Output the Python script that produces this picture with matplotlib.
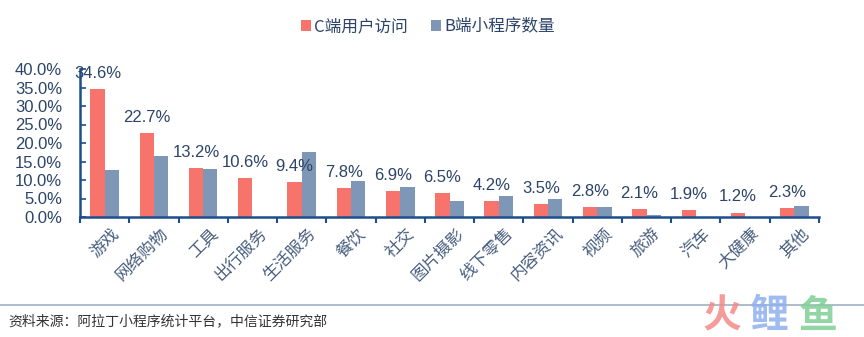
import matplotlib
matplotlib.use("Agg")
import matplotlib.pyplot as plt
import numpy as np

plt.rcParams["font.family"] = ["Noto Sans CJK SC", "DejaVu Sans"]

categories = ["游戏", "网络购物", "工具", "出行服务", "生活服务", "餐饮", "社交",
              "图片摄影", "线下零售", "内容资讯", "视频", "旅游", "汽车", "大健康", "其他"]
c_visits = [34.6, 22.7, 13.2, 10.6, 9.4, 7.8, 6.9, 6.5, 4.2, 3.5, 2.8, 2.1, 1.9, 1.2, 2.3]
b_programs = [12.8, 16.5, 13.0, 0.0, 17.7, 9.7, 8.1, 4.2, 5.7, 5.0, 2.6, 0.6, 0.0, 0.0, 3.1]
yticks = [0, 5, 10, 15, 20, 25, 30, 35, 40]

RED = "#f7746c"
BLUE = "#7f97b6"
TEXT = "#2c4468"
AXIS = "#1f4e8c"
NUM_FONT = "Liberation Sans"

fig = plt.figure(figsize=(8.64, 3.37), dpi=100)
ax = fig.add_axes([80 / 864, 1 - 217 / 337, 739 / 864, 148 / 337])

x = np.arange(len(categories))
w = 0.29
ax.bar(x - w / 2, c_visits, w, color=RED, label="C端用户访问")
ax.bar(x + w / 2, b_programs, w, color=BLUE, label="B端小程序数量")

for xi, v in zip(x, c_visits):
    ax.text(xi - w / 2, v + 2.2, f"{v:.1f}%", ha="center", va="bottom",
            fontsize=12, color=TEXT, family=NUM_FONT)

ax.set_xlim(-0.5, len(categories) - 0.5)
ax.set_ylim(0, 40)
ax.set_yticks(yticks)
ax.set_yticklabels([f"{t:.1f}%" for t in yticks], fontsize=12, color=TEXT,
                   family=NUM_FONT)
ax.tick_params(axis="y", direction="in", length=4, width=1.2, color=AXIS, pad=13)

ax.set_xticks(np.arange(len(categories) + 1) - 0.5)
ax.set_xticklabels([])
ax.tick_params(axis="x", direction="out", length=4, width=1.5, color=AXIS)
for xi, name in zip(x, categories):
    ax.text(xi + 0.12, -2.2, name, rotation=45, ha="right", va="top",
            rotation_mode="anchor", fontsize=12, color="#475d7e")

for side in ("top", "right"):
    ax.spines[side].set_visible(False)
for side in ("left", "bottom"):
    ax.spines[side].set_color(AXIS)
    ax.spines[side].set_linewidth(1.8)

fig.legend(loc="center", bbox_to_anchor=(428 / 864, 1 - 27 / 337), ncol=2,
           frameon=False, fontsize=12, handlelength=0.6, handleheight=0.6,
           handletextpad=0.2, columnspacing=1.4, labelcolor=TEXT)

# footer rule, source note and watermark
fig.add_artist(plt.Line2D([0, 1], [1 - 305 / 337] * 2, color="#9fb0c4",
                          linewidth=1.2, transform=fig.transFigure))
fig.text(8 / 864, 1 - 321 / 337, "资料来源：阿拉丁小程序统计平台，中信证券研究部",
         fontsize=10, color="#333333", va="center", ha="left")
for ch, col, xpos in (("火", "#f48a86", 722), ("鲤", "#8fb0ee", 769), ("鱼", "#7fcf95", 818)):
    fig.text(xpos / 864, 1 - 316 / 337, ch, fontsize=28, fontweight="bold",
             color=col, alpha=0.85, ha="center", va="center")

fig.savefig("out.png", dpi=100)
